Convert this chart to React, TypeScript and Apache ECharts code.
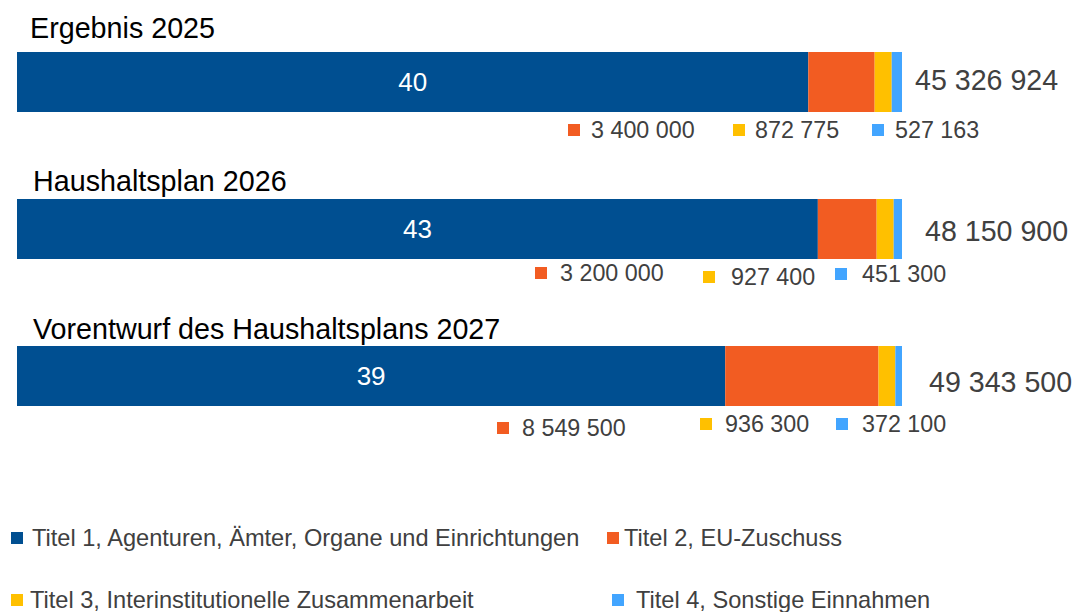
import React, { useEffect, useRef } from "react";
import * as echarts from "echarts";

// ---- data ----
const categories = ["Ergebnis 2025", "Haushaltsplan 2026", "Vorentwurf des Haushaltsplans 2027"];
const seriesNames = [
  "Titel 1, Agenturen, Ämter, Organe und Einrichtungen",
  "Titel 2, EU-Zuschuss",
  "Titel 3, Interinstitutionelle Zusammenarbeit",
  "Titel 4, Sonstige Einnahmen",
];
const titel1 = [40526986, 43572200, 39485600];
const titel2 = [3400000, 3200000, 8549500];
const titel3 = [872775, 927400, 936300];
const titel4 = [527163, 451300, 372100];
const totals = [45326924, 48150900, 49343500];

// ---- styles / layout ----
const colors = ["#004F91", "#F25C22", "#FFC000", "#42A5FF"];
const FONT = "'Liberation Sans', Arial, Helvetica, sans-serif";
const TEXT_GRAY = "#404040";
const barTops = [52, 199, 346];
const barHeight = 60;
const barLeft = 17;
const barWidthPx = 885;
const titlePos = [
  [30, 28],
  [33, 181],
  [33, 329],
];
const totalPos = [
  [915, 80],
  [925, 231],
  [929, 382],
];
// [square x, text x, center y] for Titel 2, 3, 4 labels under each bar
const smallPos = [
  [[568, 591, 130], [733, 755, 130], [872, 895, 130]],
  [[535, 560, 273], [703, 731, 277], [835, 862, 274]],
  [[497, 522, 428], [700, 725, 424], [836, 862, 424]],
];
// legend: [icon left, center y, text padding-left]
const legendPos = [
  [11, 538, 4],
  [607, 538, 0],
  [11, 600, 2],
  [612, 600, 7],
];

const fmt = (n: number) => String(n).replace(/\B(?=(\d{3})+(?!\d))/g, " ");

export default function App() {
  const ref = useRef<HTMLDivElement>(null);
  useEffect(() => {
    if (!ref.current) return;
    const chart = echarts.init(ref.current, null, { renderer: "svg" });
    const allSeries = [titel1, titel2, titel3, titel4];

    const grids = barTops.map((t) => ({ left: barLeft, top: t, width: barWidthPx, height: barHeight }));
    const xAxes = totals.map((tot, i) => ({
      type: "value",
      gridIndex: i,
      min: 0,
      max: tot,
      show: false,
    }));
    const yAxes = categories.map((c, i) => ({
      type: "category",
      gridIndex: i,
      data: [c],
      show: false,
    }));

    const series: any[] = [];
    categories.forEach((_, i) => {
      allSeries.forEach((arr, k) => {
        series.push({
          type: "bar",
          name: seriesNames[k],
          xAxisIndex: i,
          yAxisIndex: i,
          stack: "s" + i,
          barWidth: barHeight,
          data: [arr[i]],
          itemStyle: { color: colors[k] },
          label:
            k === 0
              ? {
                  show: true,
                  position: "inside",
                  formatter: (p: any) => String(Math.floor(p.value / 1e6)),
                  color: "#ffffff",
                  fontSize: 26,
                  fontFamily: FONT,
                }
              : { show: false },
        });
      });
    });

    const graphics: any[] = [];
    categories.forEach((c, i) => {
      graphics.push({
        type: "text",
        x: titlePos[i][0],
        y: titlePos[i][1],
        style: { text: c, fontSize: 28.7, fontFamily: FONT, fill: "#000000", verticalAlign: "middle", align: "left" },
      });
      graphics.push({
        type: "text",
        x: totalPos[i][0],
        y: totalPos[i][1],
        style: { text: fmt(totals[i]), fontSize: 28.6, fontFamily: FONT, fill: TEXT_GRAY, verticalAlign: "middle", align: "left" },
      });
      [titel2, titel3, titel4].forEach((arr, j) => {
        const [sx, tx, cy] = smallPos[i][j];
        graphics.push({
          type: "rect",
          shape: { x: sx, y: cy - 6, width: 12, height: 12 },
          style: { fill: colors[j + 1] },
        });
        graphics.push({
          type: "text",
          x: tx,
          y: cy,
          style: { text: fmt(arr[i]), fontSize: 23.3, fontFamily: FONT, fill: TEXT_GRAY, verticalAlign: "middle", align: "left" },
        });
      });
    });

    const legends = seriesNames.map((n, k) => ({
      data: [n],
      left: legendPos[k][0],
      top: legendPos[k][1] - 12,
      padding: 0,
      icon: "rect",
      itemWidth: 12,
      itemHeight: 12,
      textStyle: {
        fontSize: 23.6,
        fontFamily: FONT,
        color: TEXT_GRAY,
        lineHeight: 24,
        padding: [0, 0, 0, legendPos[k][2]],
      },
    }));

    chart.setOption({
      animation: false,
      grid: grids,
      xAxis: xAxes,
      yAxis: yAxes,
      series,
      legend: legends,
      graphic: graphics,
    });
    return () => chart.dispose();
  }, []);

  return (
    <div
      ref={ref}
      style={{ position: "fixed", left: 0, top: 0, width: 1075, height: 612, background: "#ffffff" }}
    />
  );
}
